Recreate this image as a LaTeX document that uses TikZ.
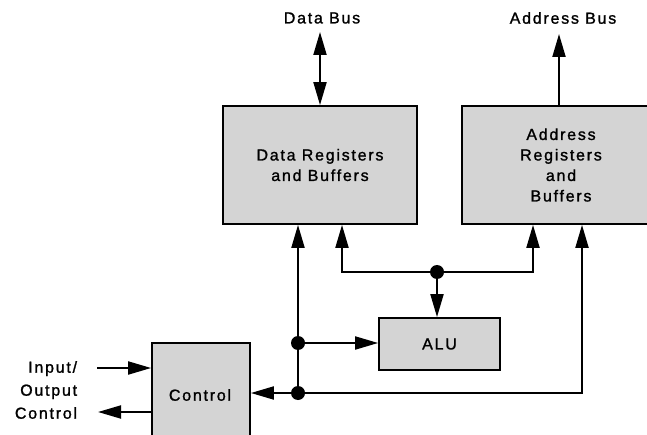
\documentclass[tikz,border=0pt]{standalone}
\usepackage{fontspec}
\setmainfont{Liberation Sans}[LetterSpace=11, FakeBold=1.3]
\usetikzlibrary{arrows.meta}
\begin{document}
\begin{tikzpicture}[x=1pt,y=-1pt,
  every node/.style={font=\fontsize{16}{20.5}\selectfont, inner sep=0pt},
  blk/.style={draw=black, line width=1.8pt, fill=black!17, minimum width=#1, anchor=center},
  arr/.style={line width=2pt, -{Triangle[length=23pt,width=13pt]}},
  darr/.style={line width=2pt, {Triangle[length=23pt,width=13pt]}-{Triangle[length=23pt,width=13pt]}},
  dot/.style={circle, fill=black, minimum size=14pt, inner sep=0pt}]
\useasboundingbox (0,0) rectangle (647,435);
\clip (0,0) rectangle (647,435);
\fill[white] (0,0) rectangle (647,435);
% blocks
\node[blk=194pt, minimum height=118pt, align=center] (DataBox) at (320,165) {Data Registers\\and Buffers};
\node[blk=198pt, minimum height=118pt, align=center] (AddrBox) at (561,165) {Address\\Registers\\and\\Buffers};
\node[blk=121pt, minimum height=52pt] (ALU) at (439.5,344) {ALU};
\node[blk=98pt, minimum height=106pt] (Ctrl) at (201,396) {};
\node (CtrlTxt) at (200,395) {Control};
% labels
\node (dbl) at (322,18) {Data Bus};
\node (abl) at (563,18) {Address Bus};
\node[align=right, font=\fontsize{16}{23}\selectfont] (io) at (46,390) {Input/\\Output\\Control};
% coordinates
\coordinate (dbus) at (320,32);
\coordinate (abus) at (559,34);
\coordinate (j1) at (298,393);
\coordinate (j2) at (298,343);
\coordinate (j3) at (437,272);
\coordinate (inS) at (97,368);
\coordinate (outE) at (98,412);
% bus connections
\draw[darr] (dbus) -- (dbus |- DataBox.north);
\draw[arr] (abus |- AddrBox.north) -- (abus);
% internal connections
\draw[arr] (j1) -- (j1 |- DataBox.south);
\draw[arr] (j2) -- (j2 -| ALU.west);
\draw[arr] (j1) -- (j1 -| Ctrl.east);
\draw[arr] (j1) -| ([xshift=21pt]AddrBox.south);
\draw[arr] (j3) -| ([xshift=22pt]DataBox.south);
\draw[arr] (j3) -| ([xshift=-28pt]AddrBox.south);
\draw[arr] (j3) -- (j3 |- ALU.north);
% io
\draw[arr] (inS) -- (inS -| Ctrl.west);
\draw[arr] (outE -| Ctrl.west) -- (outE);
% dots
\node[dot] (d1) at (j1) {};
\node[dot] (d2) at (j2) {};
\node[dot] (d3) at (j3) {};
\end{tikzpicture}
\end{document}
